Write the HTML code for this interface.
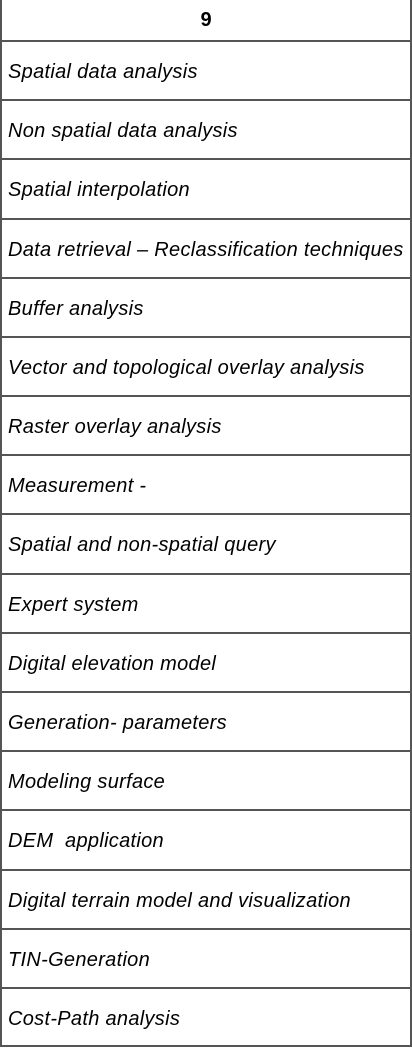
<!DOCTYPE html>
<html><head><meta charset="utf-8"><style>
html,body{margin:0;padding:0;background:#fff;}
body{width:412px;height:1048px;position:relative;overflow:hidden;font-family:"Liberation Sans",Arial,sans-serif;color:#000;}
.frame{position:absolute;left:0;top:0;width:408px;height:1045px;border:2px solid #555;border-top:none;}
.h{position:absolute;left:0;width:412px;height:2px;background:#555;}
.t{position:absolute;left:8px;font-style:italic;font-size:20px;letter-spacing:0.3px;white-space:nowrap;line-height:24px;}
.hd{position:absolute;left:0;width:412px;top:8px;text-align:center;font-weight:bold;font-size:20px;line-height:24px;}
</style></head><body>
<div class="frame"></div>
<div class="hd">9</div>
<div class="h" style="top:40px"></div><div class="t" style="top:60px">Spatial data analysis</div>
<div class="h" style="top:99.2px"></div><div class="t" style="top:119.2px">Non spatial data analysis</div>
<div class="h" style="top:158.4px"></div><div class="t" style="top:178.4px">Spatial interpolation</div>
<div class="h" style="top:217.5px"></div><div class="t" style="top:237.5px">Data retrieval – Reclassification techniques</div>
<div class="h" style="top:276.7px"></div><div class="t" style="top:296.7px">Buffer analysis</div>
<div class="h" style="top:335.9px"></div><div class="t" style="top:355.9px">Vector and topological overlay analysis</div>
<div class="h" style="top:395.1px"></div><div class="t" style="top:415.1px">Raster overlay analysis</div>
<div class="h" style="top:454.3px"></div><div class="t" style="top:474.3px">Measurement -</div>
<div class="h" style="top:513.4px"></div><div class="t" style="top:533.4px">Spatial and non-spatial query</div>
<div class="h" style="top:572.6px"></div><div class="t" style="top:592.6px">Expert system</div>
<div class="h" style="top:631.8px"></div><div class="t" style="top:651.8px">Digital elevation model</div>
<div class="h" style="top:691px"></div><div class="t" style="top:711px">Generation- parameters</div>
<div class="h" style="top:750.2px"></div><div class="t" style="top:770.2px">Modeling surface</div>
<div class="h" style="top:809.3px"></div><div class="t" style="top:829.3px">DEM &nbsp;application</div>
<div class="h" style="top:868.5px"></div><div class="t" style="top:888.5px">Digital terrain model and visualization</div>
<div class="h" style="top:927.7px"></div><div class="t" style="top:947.7px">TIN-Generation</div>
<div class="h" style="top:986.9px"></div><div class="t" style="top:1006.9px">Cost-Path analysis</div>
</body></html>
